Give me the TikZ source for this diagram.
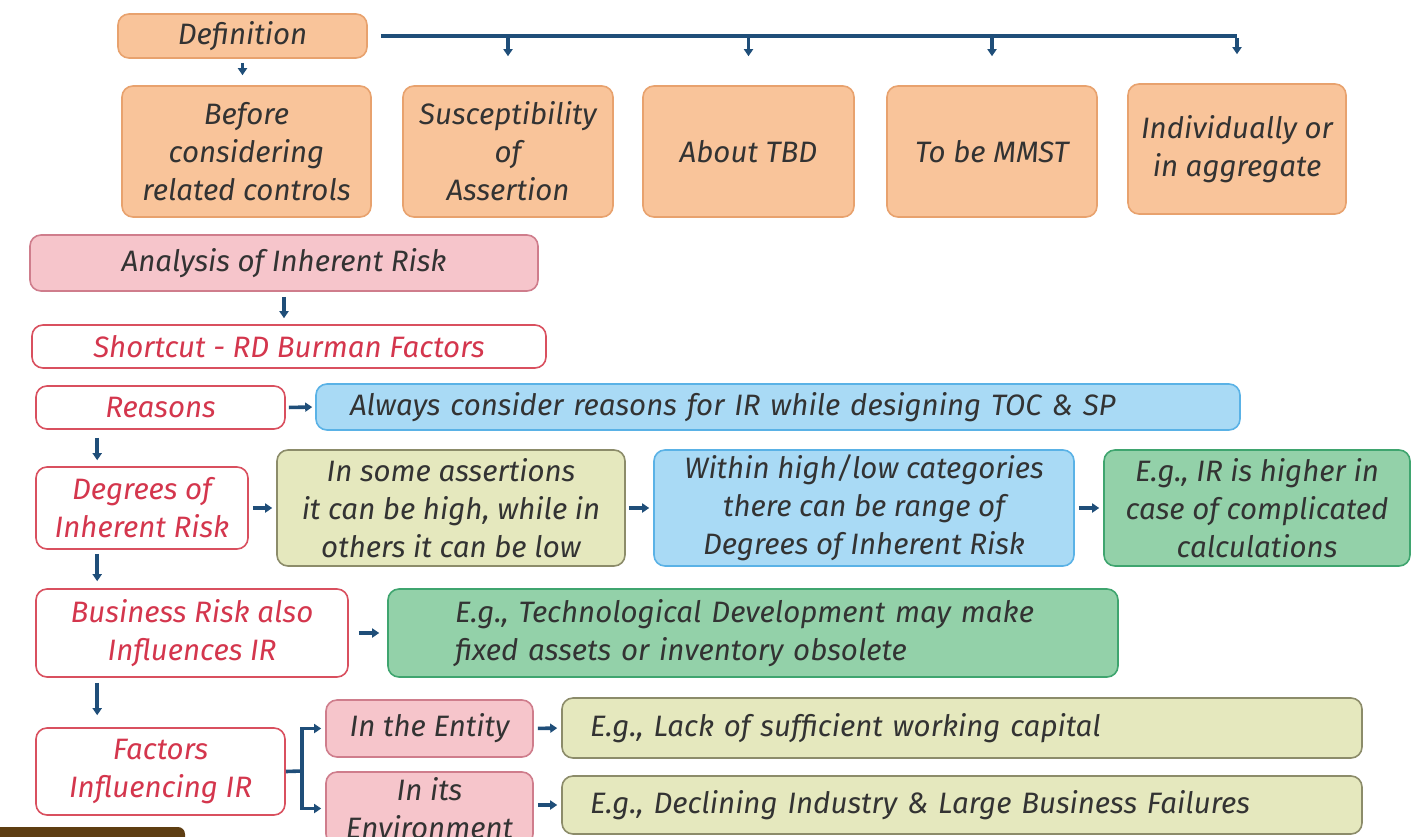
\documentclass[tikz,border=0pt]{standalone}
\usepackage{fontspec}
\setmainfont{Fira Sans}
\usetikzlibrary{arrows.meta}

\definecolor{orfill}{HTML}{F9C49A}
\definecolor{ordraw}{HTML}{E8A26E}
\definecolor{pkfill}{HTML}{F6C5CB}
\definecolor{pkdraw}{HTML}{CF7D8C}
\definecolor{rddraw}{HTML}{D9505F}
\definecolor{rdtext}{HTML}{D4364D}
\definecolor{blfill}{HTML}{A9DAF5}
\definecolor{bldraw}{HTML}{5AB2E6}
\definecolor{ygfill}{HTML}{E5E8BE}
\definecolor{ygdraw}{HTML}{8C8C6A}
\definecolor{grfill}{HTML}{93D1A9}
\definecolor{grdraw}{HTML}{3FA56F}
\definecolor{txt}{HTML}{333333}
\definecolor{arrowc}{HTML}{1F4E79}
\definecolor{brownc}{HTML}{5E3E12}

\newcommand\fsz{\fontsize{29.5}{38}\selectfont}

% box: name, style, x1, y1, x2, y2, text
\newcommand\bx[7]{%
  \node[#2, minimum width={#5-#3}, minimum height={#6-#4}] (#1)
    at ({(#3+#5)/2},{(#4+#6)/2}) {#7};}
% left-aligned box: name, style, x1, y1, x2, y2, padding, text
\newcommand\lbx[8]{%
  \node[#2, align=left, inner xsep=#7, text width={#5-#3-2*#7},
        minimum height={#6-#4}] (#1)
    at ({(#3+#5)/2},{(#4+#6)/2}) {#8};}

\begin{document}
\begin{tikzpicture}[x=1pt,y=-1pt,
  base/.style={rounded corners=11pt, line width=1.6pt, inner sep=0pt,
               align=center, font=\fsz\itshape, text=txt},
  orbox/.style={base, fill=orfill, draw=ordraw},
  pkbox/.style={base, fill=pkfill, draw=pkdraw},
  rdbox/.style={base, fill=white, draw=rddraw, text=rdtext},
  blbox/.style={base, fill=blfill, draw=bldraw},
  ygbox/.style={base, fill=ygfill, draw=ygdraw},
  grbox/.style={base, fill=grfill, draw=grdraw},
  lineb/.style={draw=arrowc, line width=3.6pt},
  arr/.style={lineb, -{Triangle[length=7pt,width=9pt]}},
]
\useasboundingbox (0,0) rectangle (1413,836);
\clip (0,0) rectangle (1413,836);
\fill[white] (0,0) rectangle (1413,836);

% definition and its five parts
\bx{def}{orbox}{118}{14}{367}{58}{Definition}
\bx{b1}{orbox}{122}{86}{371}{217}{Before\\considering\\related controls}
\bx{b2}{orbox}{403}{86}{613}{217}{Susceptibility\\of\\Assertion}
\bx{b3}{orbox}{643}{86}{854}{217}{About TBD}
\bx{b4}{orbox}{887}{86}{1097}{217}{To be MMST}
\bx{b5}{orbox}{1128}{84}{1346}{214}{Individually or\\in aggregate}

\draw[arr, shorten <=4pt, shorten >=10pt] (def.south) -- (def.south |- b1.north);
\draw[lineb] ([xshift=13pt]def.east) -- (def.east -| b5.north);
\draw[arr, shorten >=29pt] (def.east -| b2.north) -- (b2.north);
\draw[arr, shorten >=29pt] (def.east -| b3.north) -- (b3.north);
\draw[arr, shorten >=29pt] (def.east -| b4.north) -- (b4.north);
\draw[arr, shorten >=29pt] ([yshift=-1.8pt]def.east -| b5.north) -- (b5.north);

% analysis
\bx{ana}{pkbox}{30}{235}{538}{291}{Analysis of Inherent Risk}
\bx{sc}{rdbox}{32}{325}{546}{368}{Shortcut - RD Burman Factors}
\draw[arr, shorten <=5pt, shorten >=6pt] (ana.south) -- (ana.south |- sc.north);

\bx{rs}{rdbox}{36}{386}{285}{429}{Reasons}
\lbx{al}{blbox}{316}{384}{1240}{430}{34pt}{Always consider reasons for IR while designing TOC \& SP}
\draw[arr, shorten <=3pt, shorten >=3pt] (rs.east) -- (al.west);

\bx{deg}{rdbox}{36}{467}{248}{549}{Degrees of\\Inherent Risk}
\bx{y1}{ygbox}{277}{450}{625}{566}{In some assertions\\it can be high, while in\\others it can be low}
\bx{bl2}{blbox}{654}{450}{1074}{566}{Within high/low categories\\there can be range of\\Degrees of Inherent Risk}
\bx{gr1}{grbox}{1104}{450}{1410}{566}{E.g., IR is higher in\\case of complicated\\calculations}
\draw[arr, shorten <=4pt, shorten >=4pt] (deg.east) -- (y1.west);
\draw[arr, shorten <=3pt, shorten >=4pt] (y1.east) -- (bl2.west);
\draw[arr, shorten <=4pt, shorten >=4pt] (bl2.east) -- (gr1.west);
\draw[arr, shorten <=8pt, shorten >=6pt] ([xshift=62pt]rs.south west) -- ([xshift=62pt]deg.north west);

\bx{bus}{rdbox}{36}{589}{348}{677}{Business Risk also\\Influences IR}
\lbx{gr2}{grbox}{388}{589}{1118}{677}{67pt}{E.g., Technological Development may make\\fixed assets or inventory obsolete}
\draw[arr, shorten <=10pt, shorten >=8pt] (bus.east) -- (gr2.west);
\draw[arr, shorten <=4pt, shorten >=7pt] ([xshift=62pt]deg.south west) -- ([xshift=62pt]bus.north west);

\bx{fac}{rdbox}{36}{728}{285}{815}{Factors\\Influencing IR}
\draw[arr, shorten <=5pt, shorten >=12pt] ([xshift=62pt]bus.south west) -- ([xshift=62pt]fac.north west);

\bx{ent}{pkbox}{326}{700}{533}{757}{In the Entity}
\bx{env}{pkbox}{326}{772}{533}{845}{In its\\Environment}
\coordinate (fork) at (302,771);
\draw[lineb] (fac.east) -- (fork);
\draw[arr, shorten >=4pt] ([yshift=-1.8pt]fork) |- (ent.west);
\draw[arr, shorten >=4pt] ([yshift=1.8pt]fork) |- (env.west);

\lbx{ey1}{ygbox}{562}{698}{1362}{758}{28pt}{E.g., Lack of sufficient working capital}
\lbx{ey2}{ygbox}{562}{776}{1362}{834}{28pt}{E.g., Declining Industry \& Large Business Failures}
\draw[arr, shorten <=4pt, shorten >=4pt] (ent.east) -- (ey1.west);
\draw[arr, shorten <=4pt, shorten >=4pt] (env.east |- ey2.west) -- (ey2.west);

% strip at the lower edge
\fill[brownc] (0,840) -- (0,827) [rounded corners=7pt] -- (185,827) [sharp corners] -- (185,840) -- cycle;
\end{tikzpicture}
\end{document}
